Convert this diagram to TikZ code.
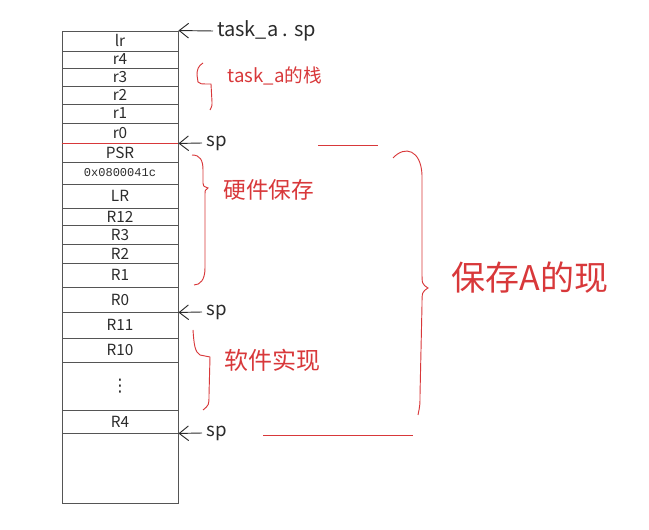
\documentclass[tikz,border=0pt]{standalone}
\usepackage{fontspec}
\setmainfont{Noto Sans CJK SC}
\newfontfamily\codefont{Liberation Mono}
\newfontfamily\symfont{DejaVu Sans}
\usepackage{tikz}
\usetikzlibrary{arrows.meta}
\definecolor{ink}{HTML}{D8383A}
\definecolor{pen}{HTML}{2B2B2B}

\begin{document}
\begin{tikzpicture}[x=0.75pt, y=-0.75pt,
  cell/.style={draw=pen!80, line width=0.7pt, minimum width=87pt, inner sep=0pt,
    font=\fontsize{11.5}{13}\selectfont, text=pen},
  ptr/.style={-{Straight Barb[length=7pt,width=11pt]}, line width=0.7pt, pen},
  spn/.style={anchor=west, inner sep=3pt, text=pen, font=\fontsize{14}{16}\selectfont},
  note/.style={anchor=west, inner sep=1pt, text=ink},
  brc/.style={ink, line width=0.7pt}]
\useasboundingbox (0,0) rectangle (649,530);
% task_a stack
\node[cell, minimum height=15pt]    (lr)  at (120,41)    {lr};
\node[cell, minimum height=12.75pt] (r4)  at (120,59.5)  {r4};
\node[cell, minimum height=13.5pt]  (r3)  at (120,77)    {r3};
\node[cell, minimum height=13.5pt]  (r2)  at (120,95)    {r2};
\node[cell, minimum height=14.25pt] (r1)  at (120,113.5) {r1};
\node[cell, minimum height=15pt]    (r0)  at (120,133)   {r0};
% hardware frame
\node[cell, minimum height=14.25pt] (psr) at (120,152.5) {PSR};
\node[cell, minimum height=16.5pt, font=\codefont\fontsize{9}{11}\selectfont] (pc) at (120,173) {0x0800041c};
\node[cell, minimum height=18pt]    (lrb) at (120,196)   {LR};
\node[cell, minimum height=12.75pt] (r12) at (120,216.5) {R12};
\node[cell, minimum height=14.25pt] (r3b) at (120,234.5) {R3};
\node[cell, minimum height=14.25pt] (r2b) at (120,253.5) {R2};
\node[cell, minimum height=18pt]    (r1b) at (120,275)   {R1};
\node[cell, minimum height=18.75pt] (r0b) at (120,299.5) {R0};
% software frame
\node[cell, minimum height=19.5pt]  (r11) at (120,325)   {R11};
\node[cell, minimum height=18pt]    (r10) at (120,350)   {R10};
\node[cell, minimum height=36pt, font=\symfont\fontsize{13}{15}\selectfont] (dts) at (120,386) {⋮};
\node[cell, minimum height=17.25pt] (r4b) at (120,421.5) {R4};
\node[cell, minimum height=52.5pt]  (fre) at (120,468)   {};
\draw[ink, line width=0.7pt] (r0.south west) -- (r0.south east);
% stack pointers
\node[spn, font=\fontsize{15}{17}\selectfont] (tsp) at (213,31) {task\_a . sp};
\node[spn] (sp1) at (202,143) {sp};
\node[spn] (sp2) at (202,312) {sp};
\node[spn] (sp3) at (202,433) {sp};
\draw[ptr] (tsp.west) -- (lr.north east);
\draw[ptr] (sp1.west) -- (r0.south east);
\draw[ptr] (sp2.west) -- (r0b.south east);
\draw[ptr] (sp3.west) -- (r4b.south east);
% braces
\draw[brc] (203,63) .. controls (198,66) and (197,70) .. (197,75) -- (198,82)
  .. controls (200,84) .. (211,84) -- (212,102) .. controls (212,106) .. (210,110);
\draw[brc] (192,155) .. controls (200,155) and (203,160) .. (203,170) -- (203,183)
  .. controls (203,186) .. (208,188) .. controls (205,190) .. (205,195) -- (205,268)
  .. controls (205,280) and (200,285) .. (194,285);
\draw[brc] (193,330) .. controls (194,345) and (195,352) .. (200,355) -- (210,357)
  -- (209,395) .. controls (209,405) .. (203,410);
\draw[brc] (393,158) .. controls (405,145) and (421,150) .. (422,175) -- (422,272)
  .. controls (422,284) .. (428,288) .. controls (422,292) .. (422,305) -- (420,395)
  .. controls (420,405) .. (418,415);
\draw[brc] (318,145) -- (378,145);
\draw[brc] (263,435) -- (413,435);
% labels
\node[note, font=\fontsize{14}{16}\selectfont] (own) at (226,76) {task\_a的栈};
\node[note, font=\fontsize{17}{19}\selectfont] (hw)  at (222,190) {硬件保存};
\node[note, font=\fontsize{18}{20}\selectfont] (sw)  at (223,360) {软件实现};
\node[note, font=\fontsize{25.5}{28}\selectfont] (ctx) at (450,278) {保存A的现};
\end{tikzpicture}
\end{document}
